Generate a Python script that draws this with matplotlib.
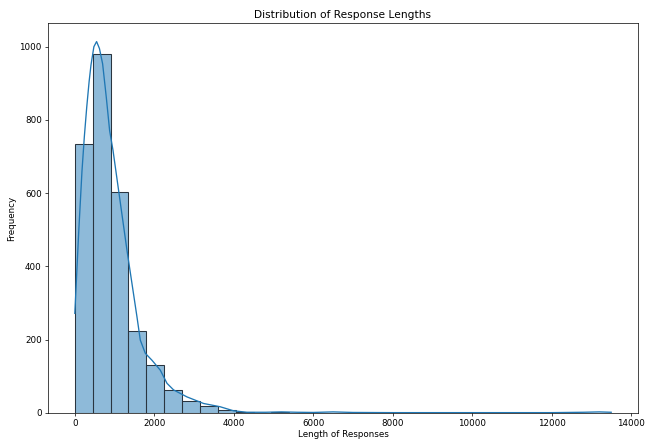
import numpy as np
import matplotlib
matplotlib.use("Agg")
import matplotlib.pyplot as plt

# histogram: 30 bins of width 450 from 0 to 13500
bin_width = 450
bin_counts = [734, 981, 603, 225, 130, 62, 33, 18, 7,
              2, 1, 2, 1, 0, 1, 0, 0, 1, 0, 0,
              0, 0, 0, 0, 0, 0, 0, 0, 0, 1]

# kde curve
kde_x = [0, 96, 180, 240, 300, 360, 407, 480, 548, 620, 700, 792, 876, 961,
         1108, 1313, 1439, 1565, 1648, 1774, 1942, 2151, 2320, 2486, 2822,
         3240, 3660, 3995, 4330, 4800, 5200, 5600, 6000, 6500, 7000, 8000,
         9000, 10000, 11000, 12000, 12800, 13200, 13500]
kde_y = [272, 490, 660, 755, 835, 905, 950, 1000, 1014, 995, 953, 862, 771, 717,
         603, 444, 353, 262, 199, 163, 144, 117, 81, 63, 44,
         26, 17, 6, 2, 2, 3, 2, 1.5, 3, 1.5, 1,
         1, 1, 1, 1, 2, 3, 2]

dpi = 63.4
fig = plt.figure(figsize=(645 / dpi, 439 / dpi), dpi=dpi)
ax = fig.add_axes([48 / 645, 26 / 439, 590 / 645, 390 / 439])

left_edges = np.arange(len(bin_counts)) * bin_width
ax.bar(left_edges, bin_counts, width=bin_width, align="edge",
       facecolor=(0.122, 0.467, 0.706, 0.5), edgecolor="#2a3540", linewidth=1.2)
ax.plot(kde_x, kde_y, color="C0", linewidth=1.5)

ax.set_title("Distribution of Response Lengths")
ax.set_xlabel("Length of Responses", labelpad=2)
ax.set_ylabel("Frequency")

fig.savefig("out.png", dpi=dpi)
